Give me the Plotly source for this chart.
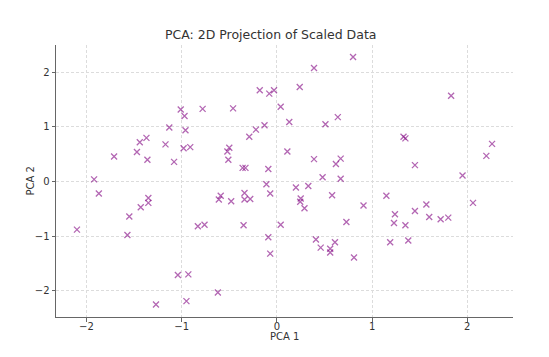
import plotly.graph_objects as go

pca1 = [-1.92, -1.71, -1.47, -1.44, -1.37, -1.36, -1.17, -1.13, -1.08, -1.01,
        -0.97, -0.96, -0.98, -0.91, -0.78,
        0.80, 0.39, 0.24, -0.18, -0.08, -0.03, -0.46, 0.04, 0.13, 0.51,
        0.64, -0.13, -0.22, -0.29, -0.50, -0.52, 0.11, -0.51, 0.39, 0.67,
        0.62, -0.36, -0.33, -0.09, 0.48, 0.67, -0.11, 0.20, 0.33,
        1.83, 1.33, 1.35, 2.26, 2.20, 1.45, 1.95,
        -1.87, -2.10, -1.55, -1.57, -1.43, -1.35, -1.35, -0.83, -0.76, -1.04,
        -0.93, -1.27, -0.95,
        -0.07, -0.59, -0.61, -0.48, -0.34, -0.34, -0.28, 0.25, 0.245, 0.29,
        0.58, 0.91, -0.35, 0.04, 0.73, -0.09, -0.07, 0.41, 0.46, 0.56,
        0.56, 0.61, 0.81, -0.62,
        1.15, 1.24, 1.23, 1.35, 1.45, 1.57, 1.60, 1.72, 1.80, 2.06,
        1.19, 1.38]
pca2 = [0.04, 0.46, 0.54, 0.72, 0.80, 0.40, 0.68, 0.99, 0.36, 1.32,
        1.20, 0.94, 0.61, 0.63, 1.33,
        2.28, 2.08, 1.73, 1.67, 1.61, 1.67, 1.34, 1.37, 1.09, 1.05,
        1.18, 1.03, 0.95, 0.82, 0.62, 0.55, 0.55, 0.40, 0.41, 0.42,
        0.32, 0.25, 0.25, 0.23, 0.08, 0.05, -0.05, -0.11, -0.08,
        1.57, 0.82, 0.79, 0.69, 0.47, 0.30, 0.11,
        -0.22, -0.88, -0.64, -0.98, -0.47, -0.30, -0.39, -0.82, -0.79, -1.71,
        -1.70, -2.25, -2.19,
        -0.22, -0.26, -0.33, -0.36, -0.21, -0.33, -0.32, -0.31, -0.37, -0.49,
        -0.25, -0.44, -0.80, -0.79, -0.74, -1.02, -1.32, -1.06, -1.21, -1.23,
        -1.30, -1.11, -1.39, -2.03,
        -0.26, -0.60, -0.76, -0.80, -0.54, -0.42, -0.65, -0.69, -0.66, -0.39,
        -1.11, -1.08]

tick_vals = [-2, -1, 0, 1, 2]
tick_text = ["\u22122", "\u22121", "0", "1", "2"]

fig = go.Figure()
fig.add_trace(go.Scatter(
    x=pca1, y=pca2, mode="markers",
    marker=dict(symbol="x-thin", size=6, color="rgba(128,0,128,0.6)",
                line=dict(width=1.3, color="rgba(128,0,128,0.6)")),
    showlegend=False, hoverinfo="skip"))

font = "DejaVu Sans, Liberation Sans, sans-serif"
axis_common = dict(
    showgrid=True, gridcolor="#dcdcdc", gridwidth=0.7, griddash="3px,2px",
    zeroline=False, showline=True, linecolor="#666666", linewidth=1,
    ticks="outside", ticklen=3.5, tickcolor="#666666", tickwidth=1,
    tickfont=dict(family=font, size=10, color="#333333"),
    tickvals=tick_vals, ticktext=tick_text, automargin=False,
)
# page body has an 8px margin, so the figure is shrunk and margins shifted
fig.update_layout(
    width=541, height=349,
    margin=dict(l=48, r=36, t=37, b=40),
    paper_bgcolor="white", plot_bgcolor="white",
    title=dict(text="PCA: 2D Projection of Scaled Data", x=262.7 / 541, xref="container",
               xanchor="center", y=1 - 27 / 349, yref="container", yanchor="middle",
               font=dict(family=font, size=12.5, color="#333333")),
    xaxis=dict(range=[-2.32, 2.48], ticklabelstandoff=-4, **axis_common),
    yaxis=dict(range=[-2.48, 2.50], **axis_common),
    annotations=[
        dict(text="PCA 1", xref="paper", yref="paper", x=0.5, y=-0.073,
             xanchor="center", yanchor="middle", showarrow=False,
             font=dict(family=font, size=10, color="#333333")),
        dict(text="PCA 2", xref="paper", yref="paper", x=-0.056, y=0.5,
             xanchor="center", yanchor="middle", showarrow=False, textangle=-90,
             font=dict(family=font, size=10, color="#333333")),
    ],
)
fig.write_html("out.html")
